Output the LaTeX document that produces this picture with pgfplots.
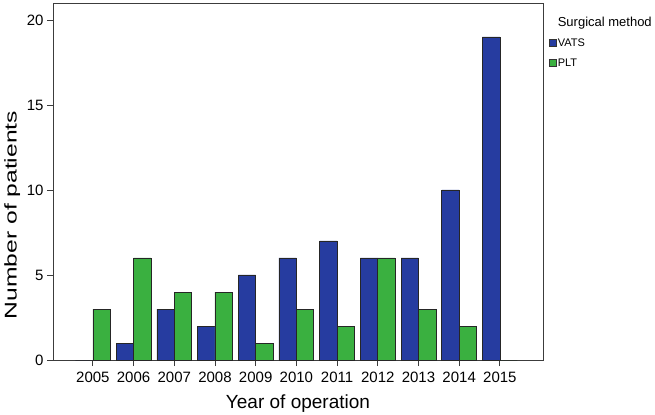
\documentclass[border=0pt]{standalone}
\usepackage{pgfplots}
\pgfplotsset{compat=1.18}
\usepackage{graphicx}
\usepackage{fontspec}
\setmainfont{Liberation Sans}
\definecolor{vats}{RGB}{38,60,160}
\definecolor{plt}{RGB}{58,176,64}
\definecolor{axgray}{RGB}{60,60,60}
\begin{document}
\begin{tikzpicture}
\begin{axis}[
  at={(0,0)}, anchor=south west,
  scale only axis, width=490bp, height=357bp,
  xmin=2004.02, xmax=2016.06, ymin=0, ymax=21,
  ybar, bar width=17.4bp,
  xtick={2005,2006,2007,2008,2009,2010,2011,2012,2013,2014,2015},
  xticklabels={2005,2006,2007,2008,2009,2010,2011,2012,2013,2014,2015},
  ytick={0,5,10,15,20},
  /pgf/number format/assume math mode=true,
  tick label style={font=\fontsize{15bp}{15bp}\selectfont},
  xticklabel style={yshift=-3bp},
  tick align=outside, tick pos=left, major tick length=6bp,
  axis line style={axgray, line width=0.8bp},
  every tick/.style={axgray, line width=0.8bp},
  xlabel={Year of operation},
  xlabel style={at={(axis description cs:0.5,-0.098)}, anchor=north, inner sep=0pt, font=\fontsize{19bp}{19bp}\selectfont},
  ylabel={\scalebox{1.45}[1]{Number of patients}},
  ylabel style={at={(axis description cs:-0.1,0.406)}, anchor=north, inner sep=0pt, font=\fontsize{17bp}{17bp}\selectfont},
  legend style={at={(rel axis cs:1,1)}, anchor=north west, xshift=6bp, yshift=-14bp,
    draw=none, fill=none, inner sep=0pt, row sep=8bp,
    font=\fontsize{11bp}{11bp}\selectfont,
    nodes={inner sep=0pt, anchor=west, text height=9bp, text depth=3bp},
    /tikz/every odd column/.append style={column sep=1bp}},
  legend cell align=left,
  legend image code/.code={\draw[#1, draw=black!80, line width=0.6bp] (0bp,-3.5bp) rectangle (7bp,3.5bp);},
]
\addlegendimage{empty legend}
\addlegendentry{\fontsize{13bp}{13bp}\selectfont Surgical method}
\addplot[fill=vats, draw=black!85, line width=0.6bp, bar shift=-8.7bp] coordinates {
 (2005,0) (2006,1) (2007,3) (2008,2) (2009,5) (2010,6) (2011,7) (2012,6) (2013,6) (2014,10) (2015,19)};
\addlegendentry{VATS}
\addplot[fill=plt, draw=black!85, line width=0.6bp, bar shift=8.7bp] coordinates {
 (2005,3) (2006,6) (2007,4) (2008,4) (2009,1) (2010,3) (2011,2) (2012,6) (2013,3) (2014,2) (2015,0)};
\addlegendentry{PLT}
\end{axis}
\pgfresetboundingbox
\path (-53bp,-55bp) rectangle (602bp,360bp);
\end{tikzpicture}
\end{document}
